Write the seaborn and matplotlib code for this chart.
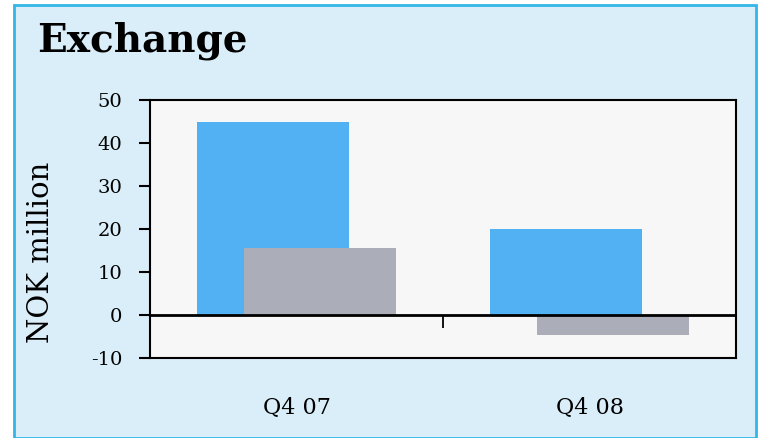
import numpy as np
import pandas as pd
import seaborn as sns
import matplotlib.pyplot as plt
from matplotlib.patches import Rectangle

# data
quarters = ['Q4 07', 'Q4 08']
series_a = [45, 20]      # blue bars
series_b = [15.5, -4.6]  # grey bars
yticks = [-10, 0, 10, 20, 30, 40, 50]

blue = '#52B1F2'
grey = '#ABAEB9'
fig_bg = '#DAEEF9'
ax_bg = '#F7F7F7'

sns.set_style('white')
plt.rcParams['font.family'] = ['DejaVu Serif']
plt.rcParams['text.color'] = 'black'
plt.rcParams['xtick.color'] = 'black'
plt.rcParams['ytick.color'] = 'black'
plt.rcParams['axes.labelcolor'] = 'black'
plt.rcParams['axes.unicode_minus'] = False

fig = plt.figure(figsize=(7.58, 4.38), dpi=100)
fig.patch.set_facecolor('white')
# light blue panel with cyan border
fig.patches.append(Rectangle((14 / 758, 0), 1 - 16 / 758, 1 - 5 / 438, transform=fig.transFigure,
                             facecolor=fig_bg, edgecolor='#33B5E8', linewidth=2, zorder=-10))

ax = fig.add_axes([150 / 758, 80 / 438, 586 / 758, 258 / 438])
ax.set_zorder(5)
ax.set_facecolor(ax_bg)

df = pd.DataFrame({'quarter': quarters, 'a': series_a, 'b': series_b})
bw = 0.52
shift = 0.08
sns.barplot(data=df, x='quarter', y='a', color=blue, saturation=1, width=bw, ax=ax, zorder=2)
n = len(ax.patches)
sns.barplot(data=df, x='quarter', y='b', color=grey, saturation=1, width=bw, ax=ax, zorder=3)
for i, p in enumerate(ax.patches):
    p.set_x(p.get_x() + (-shift if i < n else shift))
    p.set_edgecolor('none')

ax.axhline(0, color='black', lw=2, zorder=4)
ax.set_xlim(-0.5, 1.5)
ax.set_ylim(-10, 50)
ax.set_yticks(yticks)
ax.set_ylabel('NOK million', fontsize=21)
ax.yaxis.set_label_coords(-0.162, 0.41)
ax.set_xlabel('')
ax.tick_params(axis='y', left=True, direction='out', length=8, width=1.5, color='black', labelsize=14, pad=12)
ax.tick_params(axis='x', bottom=False, length=0, labelsize=16, pad=28)
for s in ax.spines.values():
    s.set_visible(True)
    s.set_color('black')
    s.set_linewidth(1.5)

# small category divider tick hanging below the zero line
sec = ax.secondary_xaxis(1 / 6)
sec.set_xticks([0.5])
sec.set_xticklabels([''])
sec.tick_params(bottom=True, direction='out', length=9, width=1.3, color='black')
sec.spines['bottom'].set_visible(False)

fig.text(37 / 758, 1 - 41 / 438, 'Exchange', fontsize=28, fontweight='bold', va='center', ha='left')

fig.savefig('out.png', dpi=100, facecolor=fig.get_facecolor())
